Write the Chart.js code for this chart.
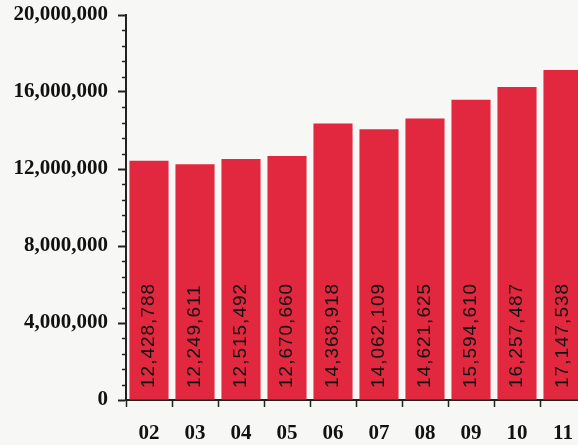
<!DOCTYPE html>
<html>
<head>
<meta charset="utf-8">
<script src="https://cdn.jsdelivr.net/npm/chart.js@4"></script>
<style>
html,body{margin:0;padding:0;background:#f7f7f6;overflow:hidden;}
#wrap{width:586px;height:445px;position:relative;}
</style>
</head>
<body>
<div id="wrap"><canvas id="c" width="586" height="445"></canvas></div>
<script>
const categories = ['02','03','04','05','06','07','08','09','10','11'];
const values = [12428788, 12249611, 12515492, 12670660, 14368918, 14062109, 14621625, 15594610, 16257487, 17147538];
const yMax = 20000000;
const yMajorStep = 4000000;
const yMinorStep = 800000;

const fmt = v => v.toLocaleString('en-US');

const minorTicks = {
  id: 'minorTicks',
  afterDraw(chart) {
    const y = chart.scales.y, ctx = chart.ctx;
    const x0 = chart.chartArea.left;
    ctx.save();
    ctx.strokeStyle = '#222';
    ctx.lineWidth = 1.5;
    for (let v = 0; v <= yMax; v += yMinorStep) {
      if (v % yMajorStep === 0) continue;
      const py = Math.round(y.getPixelForValue(v)) + 0.5;
      ctx.beginPath();
      ctx.moveTo(x0 - 4, py);
      ctx.lineTo(x0 + 1, py);
      ctx.stroke();
    }
    ctx.restore();
  }
};

const barLabels = {
  id: 'barLabels',
  afterDatasetsDraw(chart) {
    const ctx = chart.ctx;
    const meta = chart.getDatasetMeta(0);
    const base = chart.scales.y.getPixelForValue(0);
    ctx.save();
    ctx.fillStyle = '#111';
    ctx.font = '19px "Liberation Sans", Arial, sans-serif';
    try { ctx.letterSpacing = '1px'; } catch (e) {}
    ctx.textAlign = 'left';
    ctx.textBaseline = 'middle';
    meta.data.forEach((bar, i) => {
      ctx.save();
      ctx.translate(bar.x, base - 12);
      ctx.rotate(-Math.PI / 2);
      ctx.fillText(fmt(values[i]), 0, 0);
      ctx.restore();
    });
    ctx.restore();
  }
};

new Chart(document.getElementById('c'), {
  type: 'bar',
  data: {
    labels: categories,
    datasets: [{
      data: values,
      backgroundColor: '#e2283e',
      borderWidth: 0,
      categoryPercentage: 1,
      barPercentage: 0.85
    }]
  },
  options: {
    responsive: false,
    animation: false,
    layout: { padding: { top: 15, right: 0, bottom: 0, left: 0 } },
    plugins: { legend: { display: false }, tooltip: { enabled: false } },
    scales: {
      x: {
        offset: true,
        grid: { offset: true, drawOnChartArea: false, tickLength: 7, color: '#222', tickWidth: 1.5 },
        border: { color: '#222', width: 2 },
        ticks: {
          color: '#111',
          padding: 14,
          font: { family: '"Liberation Serif", "Times New Roman", serif', size: 21, weight: 'bold' }
        },
        afterFit(s) { s.height = 45; s.paddingLeft = 0; s.paddingRight = 0; }
      },
      y: {
        min: 0,
        max: yMax,
        grid: { drawOnChartArea: false, tickLength: 8, color: '#222', tickWidth: 2 },
        border: { color: '#222', width: 2 },
        ticks: {
          stepSize: yMajorStep,
          color: '#111',
          padding: 10,
          font: { family: '"Liberation Serif", "Times New Roman", serif', size: 21, weight: 'bold' },
          callback: v => fmt(v)
        },
        afterFit(s) { s.width = 126; s.paddingTop = 0; s.paddingBottom = 0; }
      }
    }
  },
  plugins: [minorTicks, barLabels]
});
</script>
</body>
</html>
